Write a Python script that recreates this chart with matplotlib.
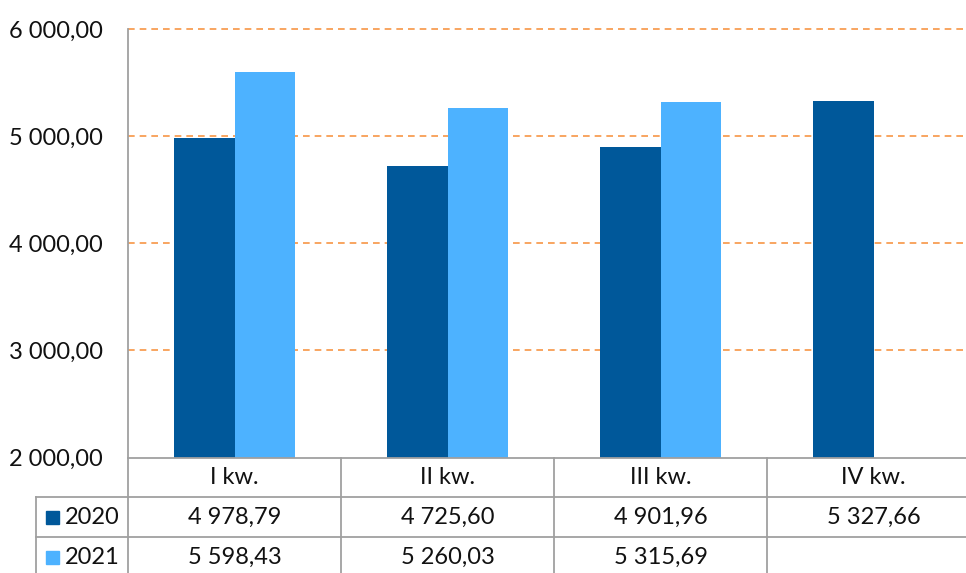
import matplotlib
matplotlib.use("Agg")
import matplotlib.pyplot as plt
from matplotlib.lines import Line2D
import matplotlib.transforms as mtransforms

plt.rcParams['font.family'] = ['Lato', 'DejaVu Sans']

categories = ["I kw.", "II kw.", "III kw.", "IV kw."]
series_names = ["2020", "2021"]
values_2020 = [4978.79, 4725.60, 4901.96, 5327.66]
values_2021 = [5598.43, 5260.03, 5315.69, None]
yticks = [2000, 3000, 4000, 5000, 6000]
colors = ["#00589A", "#4DB2FF"]

W, H = 966, 573
fig = plt.figure(figsize=(W / 100, H / 100), dpi=100)

def fx(px):
    return px / W

def fy(py):
    return 1 - py / H

# plot area extends slightly past the right edge (cropped, as in the reference)
ax = fig.add_axes([fx(128), fy(457.5), fx(980) - fx(128), fy(29) - fy(457.5)])

def fmt(v):
    s = f"{v:,.2f}"
    return s.replace(",", " ").replace(".", ",")

FS = 17
TXT = '#111111'
x = list(range(len(categories)))
bw = 0.286
for i, (vals, col) in enumerate(zip([values_2020, values_2021], colors)):
    xs = [xi + (i - 0.5) * bw for xi, v in zip(x, vals) if v is not None]
    hs = [v - 2000 for v in vals if v is not None]
    ax.bar(xs, hs, width=bw, bottom=2000, color=col, edgecolor='none', zorder=3)

ax.set_xlim(-0.5, len(categories) - 0.5)
ax.set_ylim(2000, 6000)
ax.set_yticks(yticks)
ax.set_yticklabels([fmt(t) for t in yticks], fontsize=FS, color=TXT)
ax.tick_params(axis='y', length=0, pad=18)
ax.tick_params(axis='x', bottom=False, labelbottom=False)
for t in yticks[1:]:
    ax.axhline(t, color='#F79646', lw=1.2, ls=(0, (4, 3)), zorder=1, clip_on=False)
for s in ['top', 'right', 'bottom']:
    ax.spines[s].set_visible(False)
ax.spines['left'].set_color('#A0A0A0')
ax.spines['left'].set_linewidth(1.3)

# Table below the plot
GRID = '#A0A0A0'
line_kw = dict(color=GRID, lw=1.3, transform=fig.transFigure)
trans = mtransforms.blended_transform_factory(ax.transData, fig.transFigure)
row_y = [458, 497, 537, 577]
fig.add_artist(Line2D([fx(128), 1], [fy(458), fy(458)], **line_kw))
fig.add_artist(Line2D([fx(36), 1], [fy(497), fy(497)], **line_kw))
fig.add_artist(Line2D([fx(36), 1], [fy(537), fy(537)], **line_kw))
fig.add_artist(Line2D([fx(36), fx(36)], [fy(497), 0], **line_kw))
for b in [k - 0.5 for k in range(len(categories) + 1)]:
    fig.add_artist(Line2D([b, b], [fy(458), 0], color=GRID, lw=1.3, transform=trans))

for xi, c in zip(x, categories):
    ax.text(xi, fy(478), c, transform=trans, fontsize=FS, ha='center', va='center',
            color=TXT, clip_on=False)

for r, (name, vals, col) in enumerate(zip(series_names, [values_2020, values_2021], colors)):
    yc = fy((row_y[r + 1] + row_y[r + 2]) / 2)
    fig.patches.append(plt.Rectangle((fx(46), yc - 6.5 / H), 13 / W, 13 / H, color=col,
                                     transform=fig.transFigure, figure=fig))
    fig.text(fx(65), yc, name, fontsize=FS, ha='left', va='center', color=TXT)
    for xi, v in zip(x, vals):
        if v is not None:
            ax.text(xi, yc, fmt(v), transform=trans, fontsize=FS, ha='center', va='center',
                    color=TXT, clip_on=False)

fig.savefig("out.png", dpi=100)
